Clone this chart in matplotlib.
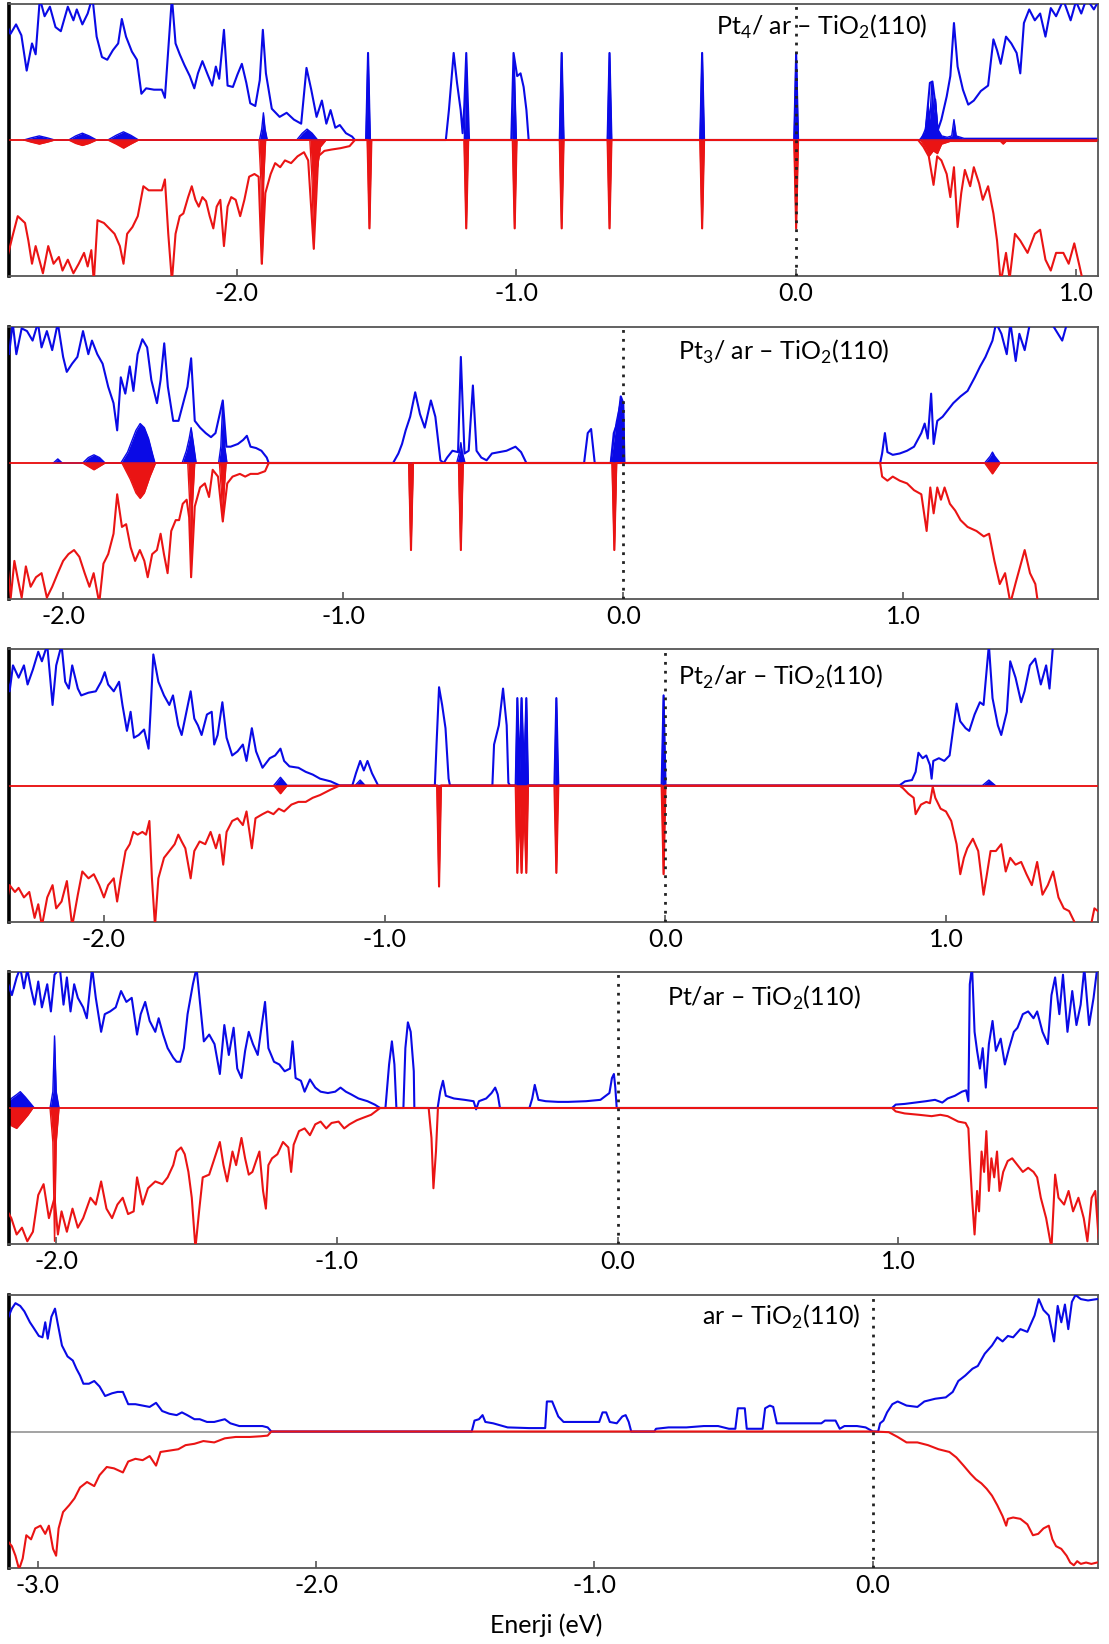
import numpy as np
import matplotlib
matplotlib.use("Agg")
import matplotlib.pyplot as plt

plt.rcParams['font.family'] = ['Lato', 'DejaVu Sans']
plt.rcParams['mathtext.fontset'] = 'custom'
plt.rcParams['mathtext.rm'] = 'Lato'
plt.rcParams['axes.unicode_minus'] = False

BLUE = '#0a0ae6'
RED = '#ea1414'

# ---------------- Pt4 / ar-TiO2(110) ----------------
P1_UP = [(-2.827, 8.8), (-2.808, 7.8), (-2.788, 8.5), (-2.769, 7.7), (-2.750, 5.1), (-2.731, 7.1), (-2.718, 6.3),
         (-2.703, 10.4), (-2.686, 9.1), (-2.667, 9.8), (-2.647, 8.3), (-2.628, 8.0), (-2.603, 9.8), (-2.583, 8.8),
         (-2.571, 9.6), (-2.551, 8.5), (-2.532, 9.3), (-2.515, 10.5), (-2.500, 7.6), (-2.481, 6.1), (-2.462, 5.9),
         (-2.442, 6.6), (-2.423, 7.1), (-2.410, 8.9), (-2.395, 7.6), (-2.374, 6.5), (-2.356, 5.9), (-2.340, 3.4),
         (-2.323, 3.8), (-2.295, 3.7), (-2.267, 3.7), (-2.256, 3.1), (-2.244, 6.6), (-2.231, 10.5), (-2.218, 7.1),
         (-2.203, 6.3), (-2.186, 5.5), (-2.167, 4.7), (-2.151, 3.8), (-2.138, 4.9), (-2.122, 5.8), (-2.103, 4.8),
         (-2.087, 4.0), (-2.074, 5.4), (-2.062, 4.5), (-2.045, 8.1), (-2.032, 4.0), (-2.013, 3.9), (-1.997, 4.8),
         (-1.981, 5.6), (-1.965, 4.2), (-1.951, 2.7), (-1.933, 2.5), (-1.917, 4.4), (-1.906, 8.1), (-1.895, 4.9),
         (-1.874, 2.3), (-1.846, 1.7), (-1.821, 2.0), (-1.795, 1.5), (-1.769, 1.2), (-1.750, 5.3), (-1.733, 3.7),
         (-1.714, 1.7), (-1.695, 2.9), (-1.679, 1.2), (-1.664, 2.2), (-1.647, 0.9), (-1.631, 1.1), (-1.609, 0.5),
         (-1.587, 0.25), (-1.577, 0.0),
         (-1.537, 0.0), (-1.530, 6.4), (-1.523, 0.0),
         (-1.252, 0.0), (-1.241, 2.2), (-1.224, 6.4), (-1.212, 4.2), (-1.199, 2.2), (-1.192, 0.5), (-1.186, 2.5),
         (-1.179, 6.4), (-1.169, 0.0),
         (-1.018, 0.0), (-1.010, 6.4), (-0.997, 4.7), (-0.985, 4.9), (-0.974, 3.9), (-0.964, 2.2), (-0.956, 0.0),
         (-0.845, 0.0), (-0.838, 6.4), (-0.831, 0.0),
         (-0.674, 0.0), (-0.667, 6.4), (-0.660, 0.0),
         (-0.343, 0.0), (-0.336, 6.4), (-0.329, 0.0),
         (-0.007, 0.0), (0.000, 6.4), (0.007, 0.0),
         (0.442, 0.0), (0.462, 0.5), (0.478, 4.2), (0.487, 4.3), (0.496, 2.9), (0.506, 0.7), (0.519, 1.5),
         (0.538, 3.2), (0.551, 4.7), (0.564, 8.6), (0.577, 5.4), (0.596, 3.7), (0.615, 2.6), (0.635, 2.9),
         (0.660, 3.6), (0.686, 4.0), (0.705, 7.4), (0.718, 6.6), (0.731, 5.6), (0.750, 7.6), (0.769, 7.1),
         (0.788, 6.4), (0.801, 4.9), (0.814, 8.6), (0.833, 9.6), (0.853, 8.8), (0.872, 9.3), (0.891, 7.6),
         (0.910, 9.7), (0.929, 9.1), (0.955, 10.3), (0.981, 8.8), (1.000, 10.2), (1.019, 9.3), (1.038, 10.4),
         (1.064, 9.6), (1.080, 10.2)]
P1_DN = [(-2.821, -8.8), (-2.801, -7.1), (-2.782, -5.6), (-2.756, -6.1), (-2.744, -7.4), (-2.731, -9.1),
         (-2.718, -7.8), (-2.692, -9.8), (-2.673, -7.8), (-2.654, -9.1), (-2.635, -8.6), (-2.622, -9.6),
         (-2.603, -8.8), (-2.583, -9.8), (-2.564, -9.1), (-2.545, -8.3), (-2.532, -9.3), (-2.519, -8.1),
         (-2.510, -10.4), (-2.497, -5.9), (-2.474, -6.1), (-2.455, -6.5), (-2.436, -6.9), (-2.417, -7.8),
         (-2.404, -9.1), (-2.391, -6.9), (-2.372, -6.4), (-2.353, -5.6), (-2.333, -3.4), (-2.314, -3.7),
         (-2.288, -3.7), (-2.267, -3.7), (-2.256, -2.9), (-2.244, -6.9), (-2.231, -10.4), (-2.218, -6.9),
         (-2.203, -5.6), (-2.190, -5.4), (-2.173, -4.2), (-2.160, -3.4), (-2.147, -4.4), (-2.135, -4.9),
         (-2.122, -4.2), (-2.109, -4.5), (-2.096, -5.6), (-2.083, -6.5), (-2.071, -4.9), (-2.058, -4.4),
         (-2.045, -7.8), (-2.032, -4.9), (-2.019, -4.2), (-2.003, -4.4), (-1.987, -5.6), (-1.972, -4.4),
         (-1.955, -2.7), (-1.936, -2.5), (-1.921, -2.7), (-1.910, -9.1), (-1.897, -3.9), (-1.878, -2.5),
         (-1.862, -1.7), (-1.844, -2.0), (-1.827, -1.5), (-1.805, -1.7), (-1.782, -1.2), (-1.759, -0.9),
         (-1.744, -1.5), (-1.724, -8.0), (-1.708, -1.2), (-1.686, -0.8), (-1.660, -0.7), (-1.628, -0.6),
         (-1.596, -0.45), (-1.577, 0.0),
         (-1.532, 0.0), (-1.525, -6.5), (-1.518, 0.0),
         (-1.186, 0.0), (-1.179, -6.5), (-1.172, 0.0),
         (-1.013, 0.0), (-1.006, -6.5), (-0.999, 0.0),
         (-0.845, 0.0), (-0.838, -6.5), (-0.831, 0.0),
         (-0.674, 0.0), (-0.667, -6.5), (-0.660, 0.0),
         (-0.343, 0.0), (-0.336, -6.5), (-0.329, 0.0),
         (-0.007, 0.0), (0.000, -6.5), (0.007, 0.0),
         (0.436, 0.0), (0.455, -0.5), (0.474, -1.2), (0.491, -3.3), (0.504, -1.2), (0.519, -1.5), (0.538, -2.5),
         (0.551, -4.2), (0.564, -2.0), (0.577, -6.4), (0.590, -3.9), (0.603, -2.2), (0.622, -3.4), (0.635, -2.0),
         (0.654, -3.2), (0.667, -4.4), (0.686, -3.4), (0.705, -5.4), (0.718, -7.4), (0.731, -10.5),
         (0.750, -8.3), (0.763, -10.2), (0.782, -6.9), (0.801, -7.4), (0.827, -8.3), (0.853, -6.9),
         (0.872, -6.6), (0.891, -8.8), (0.910, -9.6), (0.929, -8.3), (0.955, -8.3), (0.974, -9.1),
         (0.994, -7.6), (1.013, -9.3), (1.026, -10.5), (1.045, -10.3), (1.080, -10.6)]
# Pt-projected DOS
P1_PT_UP = [(-2.760, 0.0), (-2.735, 0.15), (-2.705, 0.3), (-2.675, 0.15), (-2.650, 0.0),
            (-2.600, 0.0), (-2.575, 0.3), (-2.551, 0.5), (-2.527, 0.3), (-2.500, 0.0),
            (-2.460, 0.0), (-2.430, 0.35), (-2.404, 0.6), (-2.378, 0.35), (-2.350, 0.0),
            (-1.918, 0.0), (-1.910, 0.8), (-1.904, 2.0), (-1.898, 0.8), (-1.890, 0.0),
            (-1.785, 0.0), (-1.765, 0.5), (-1.748, 0.8), (-1.730, 0.5), (-1.710, 0.0),
            (-1.537, 0.0), (-1.530, 6.4), (-1.523, 0.0),
            (-1.186, 0.0), (-1.179, 6.0), (-1.172, 0.0),
            (-1.016, 0.0), (-1.008, 6.0), (-1.000, 0.0),
            (-0.845, 0.0), (-0.838, 6.4), (-0.831, 0.0),
            (-0.674, 0.0), (-0.667, 6.4), (-0.660, 0.0),
            (-0.343, 0.0), (-0.336, 6.4), (-0.329, 0.0),
            (-0.007, 0.0), (0.000, 6.4), (0.007, 0.0),
            (0.445, 0.0), (0.462, 0.8), (0.472, 2.5), (0.478, 1.5), (0.485, 4.2), (0.492, 2.0), (0.498, 3.0),
            (0.506, 0.8), (0.520, 0.3), (0.540, 0.2), (0.556, 0.3), (0.564, 1.5), (0.572, 0.3), (0.600, 0.12),
            (1.080, 0.12)]
P1_PT_DN = [(-2.760, 0.0), (-2.735, -0.15), (-2.705, -0.3), (-2.675, -0.15), (-2.650, 0.0),
            (-2.600, 0.0), (-2.575, -0.25), (-2.551, -0.4), (-2.527, -0.25), (-2.500, 0.0),
            (-2.460, 0.0), (-2.430, -0.3), (-2.404, -0.6), (-2.378, -0.3), (-2.350, 0.0),
            (-1.920, 0.0), (-1.913, -3.0), (-1.908, -9.1), (-1.903, -3.0), (-1.896, 0.0),
            (-1.738, 0.0), (-1.730, -3.0), (-1.724, -8.0), (-1.718, -3.0), (-1.700, -0.5), (-1.680, 0.0),
            (-1.532, 0.0), (-1.525, -6.5), (-1.518, 0.0),
            (-1.186, 0.0), (-1.179, -6.5), (-1.172, 0.0),
            (-1.013, 0.0), (-1.006, -6.5), (-0.999, 0.0),
            (-0.845, 0.0), (-0.838, -6.5), (-0.831, 0.0),
            (-0.674, 0.0), (-0.667, -6.5), (-0.660, 0.0),
            (-0.343, 0.0), (-0.336, -6.5), (-0.329, 0.0),
            (-0.007, 0.0), (0.000, -6.5), (0.007, 0.0),
            (0.445, 0.0), (0.460, -0.5), (0.475, -1.2), (0.490, -0.8), (0.505, -1.0), (0.520, -0.3),
            (0.550, -0.1), (0.730, -0.1), (0.740, -0.3), (0.750, -0.1), (1.080, -0.1)]

# ---------------- Pt3 / ar-TiO2(110) ----------------
P2_UP = [(-2.206, 9.5), (-2.193, 8.0), (-2.180, 10.3), (-2.167, 8.0), (-2.148, 9.9), (-2.129, 9.7), (-2.109, 9.0),
         (-2.090, 10.3), (-2.077, 8.5), (-2.058, 9.7), (-2.039, 8.3), (-2.019, 10.3), (-2.000, 7.8), (-1.987, 6.7),
         (-1.968, 7.3), (-1.949, 7.8), (-1.929, 9.7), (-1.910, 8.0), (-1.897, 9.0), (-1.878, 8.0), (-1.859, 7.3),
         (-1.839, 5.6), (-1.820, 4.4), (-1.807, 2.4), (-1.794, 6.3), (-1.778, 5.1), (-1.762, 7.1), (-1.749, 5.3),
         (-1.734, 8.0), (-1.717, 9.1), (-1.700, 8.5), (-1.685, 6.1), (-1.665, 4.4), (-1.652, 6.1), (-1.639, 8.8),
         (-1.626, 5.6), (-1.607, 3.1), (-1.588, 3.1), (-1.569, 4.6), (-1.556, 5.6), (-1.543, 7.7), (-1.530, 3.1),
         (-1.511, 2.6), (-1.491, 2.2), (-1.472, 1.9), (-1.456, 2.2), (-1.430, 4.6), (-1.417, 1.2), (-1.402, 1.2),
         (-1.376, 1.4), (-1.357, 1.7), (-1.344, 2.0), (-1.331, 1.2), (-1.311, 1.1), (-1.292, 0.9), (-1.273, 0.4),
         (-1.266, 0.0),
         (-0.822, 0.0), (-0.803, 0.7), (-0.790, 1.4), (-0.777, 2.4), (-0.761, 3.4), (-0.743, 5.2), (-0.726, 3.6),
         (-0.709, 2.6), (-0.687, 4.6), (-0.671, 3.4), (-0.653, 0.2), (-0.641, 0.0), (-0.629, 0.4), (-0.610, 0.9),
         (-0.590, 0.8), (-0.580, 7.8), (-0.567, 0.7), (-0.552, 0.9), (-0.537, 5.7), (-0.524, 0.9), (-0.507, 0.4),
         (-0.488, 0.2), (-0.469, 0.7), (-0.443, 0.8), (-0.417, 0.9), (-0.385, 1.2), (-0.365, 0.8), (-0.346, 0.0),
         (-0.140, 0.0), (-0.127, 2.2), (-0.115, 2.5), (-0.102, 0.0),
         (-0.045, 0.0), (-0.034, 2.2), (-0.019, 3.1), (-0.009, 4.9), (0.000, 4.4), (0.004, 0.0),
         (0.917, 0.0), (0.924, 0.7), (0.934, 2.2), (0.943, 0.8), (0.962, 0.6), (0.987, 0.7), (1.013, 0.9),
         (1.038, 1.2), (1.064, 2.2), (1.076, 2.9), (1.087, 1.8), (1.099, 5.1), (1.108, 1.4), (1.121, 3.1),
         (1.140, 3.4), (1.159, 3.9), (1.178, 4.4), (1.204, 4.9), (1.229, 5.3), (1.255, 6.3), (1.274, 7.1),
         (1.293, 7.8), (1.318, 9.0), (1.331, 10.3), (1.350, 9.5), (1.369, 8.0), (1.382, 10.3), (1.401, 7.5),
         (1.414, 9.5), (1.433, 8.3), (1.452, 10.3), (1.490, 10.5), (1.528, 10.3), (1.567, 9.0), (1.586, 10.4),
         (1.700, 10.5)]
P2_DN = [(-2.199, -7.4), (-2.187, -9.9), (-2.174, -7.2), (-2.161, -8.6), (-2.148, -9.9), (-2.133, -7.6),
         (-2.116, -9.1), (-2.097, -8.4), (-2.077, -8.1), (-2.058, -9.9), (-2.039, -9.1), (-2.019, -8.1),
         (-2.000, -7.2), (-1.981, -6.7), (-1.961, -6.4), (-1.942, -6.9), (-1.923, -8.1), (-1.906, -9.1),
         (-1.891, -8.1), (-1.871, -10.3), (-1.856, -7.4), (-1.839, -6.7), (-1.820, -5.2), (-1.807, -2.3),
         (-1.790, -4.7), (-1.775, -4.5), (-1.759, -6.2), (-1.743, -7.2), (-1.726, -6.4), (-1.710, -7.2),
         (-1.698, -8.4), (-1.682, -6.7), (-1.665, -6.4), (-1.652, -5.2), (-1.640, -6.7), (-1.627, -8.1),
         (-1.614, -5.0), (-1.598, -4.2), (-1.586, -4.2), (-1.573, -3.0), (-1.559, -2.7), (-1.550, -4.0),
         (-1.543, -8.4), (-1.530, -3.2), (-1.511, -1.8), (-1.494, -1.5), (-1.479, -2.5), (-1.466, -0.5),
         (-1.447, -1.0), (-1.430, -4.3), (-1.414, -1.5), (-1.395, -1.0), (-1.369, -0.8), (-1.350, -1.0),
         (-1.331, -0.8), (-1.305, -0.8), (-1.279, -0.6), (-1.266, 0.0),
         (-0.765, 0.0), (-0.758, -6.4), (-0.751, 0.0),
         (-0.587, 0.0), (-0.580, -6.4), (-0.573, 0.0),
         (-0.039, 0.0), (-0.032, -6.4), (-0.025, 0.0),
         (0.917, 0.0), (0.924, -1.0), (0.943, -1.3), (0.962, -1.0), (0.987, -1.3), (1.013, -1.5), (1.038, -2.0),
         (1.064, -2.3), (1.083, -5.0), (1.096, -1.8), (1.108, -3.7), (1.121, -1.8), (1.134, -2.7), (1.147, -1.8),
         (1.166, -3.0), (1.185, -3.5), (1.204, -4.2), (1.229, -4.7), (1.261, -5.0), (1.287, -5.4), (1.306, -5.2),
         (1.325, -7.2), (1.344, -8.9), (1.363, -8.1), (1.382, -10.3), (1.401, -8.8), (1.433, -6.4),
         (1.452, -8.1), (1.471, -8.9), (1.481, -10.4), (1.520, -10.5), (1.700, -10.5)]
P2_PT_UP = [(-2.035, 0.0), (-2.019, 0.3), (-2.003, 0.0),
            (-1.930, 0.0), (-1.910, 0.4), (-1.890, 0.6), (-1.870, 0.4), (-1.850, 0.0),
            (-1.794, 0.0), (-1.770, 0.8), (-1.755, 1.6), (-1.740, 2.4), (-1.725, 2.9), (-1.710, 2.6),
            (-1.695, 1.8), (-1.680, 0.6), (-1.672, 0.0),
            (-1.575, 0.0), (-1.560, 0.9), (-1.550, 1.8), (-1.543, 2.6), (-1.536, 1.6), (-1.525, 0.0),
            (-1.445, 0.0), (-1.437, 1.2), (-1.430, 4.5), (-1.423, 1.2), (-1.415, 0.0),
            (-0.595, 0.0), (-0.585, 0.8), (-0.580, 1.5), (-0.575, 0.8), (-0.565, 0.0),
            (-0.045, 0.0), (-0.035, 1.5), (-0.025, 3.0), (-0.015, 4.0), (-0.008, 4.7), (0.000, 4.2), (0.004, 0.0),
            (1.290, 0.0), (1.310, 0.5), (1.318, 0.8), (1.326, 0.5), (1.345, 0.0)]
P2_PT_DN = [(-1.930, 0.0), (-1.890, -0.5), (-1.850, 0.0),
            (-1.790, 0.0), (-1.760, -1.2), (-1.740, -2.2), (-1.725, -2.6), (-1.710, -2.2), (-1.690, -1.0),
            (-1.670, 0.0),
            (-1.555, 0.0), (-1.548, -3.0), (-1.543, -8.4), (-1.538, -3.0), (-1.530, 0.0),
            (-1.442, 0.0), (-1.435, -2.0), (-1.430, -4.3), (-1.425, -2.0), (-1.418, 0.0),
            (-0.766, 0.0), (-0.758, -6.4), (-0.750, 0.0),
            (-0.588, 0.0), (-0.580, -6.4), (-0.572, 0.0),
            (-0.040, 0.0), (-0.032, -6.4), (-0.024, 0.0),
            (1.290, 0.0), (1.318, -0.8), (1.345, 0.0)]

# ---------------- Pt2 / ar-TiO2(110) ----------------
P3_UP = [(-2.349, 8.3), (-2.336, 6.9), (-2.324, 8.8), (-2.304, 7.9), (-2.285, 8.8), (-2.272, 7.4), (-2.253, 8.5),
         (-2.234, 9.8), (-2.221, 9.1), (-2.202, 10.3), (-2.183, 5.9), (-2.170, 8.8), (-2.151, 10.3), (-2.138, 7.6),
         (-2.125, 7.1), (-2.113, 8.8), (-2.093, 7.1), (-2.081, 6.6), (-2.055, 6.8), (-2.029, 6.9), (-2.010, 7.6),
         (-1.997, 8.3), (-1.985, 7.4), (-1.965, 6.9), (-1.946, 7.6), (-1.934, 5.9), (-1.918, 4.0), (-1.905, 5.4),
         (-1.893, 3.5), (-1.876, 3.7), (-1.857, 4.1), (-1.841, 2.7), (-1.834, 5.4), (-1.824, 9.6), (-1.806, 7.6),
         (-1.786, 6.6), (-1.767, 5.9), (-1.754, 6.6), (-1.735, 4.4), (-1.723, 3.7), (-1.706, 5.4), (-1.691, 6.9),
         (-1.678, 4.9), (-1.665, 4.4), (-1.652, 3.7), (-1.633, 5.2), (-1.616, 5.4), (-1.607, 3.0), (-1.595, 3.7),
         (-1.578, 6.1), (-1.563, 3.5), (-1.543, 2.2), (-1.524, 2.5), (-1.505, 3.0), (-1.492, 1.8), (-1.473, 4.2),
         (-1.458, 2.5), (-1.435, 1.3), (-1.409, 2.0), (-1.390, 2.2), (-1.371, 2.7), (-1.358, 1.8), (-1.339, 1.4),
         (-1.307, 1.3), (-1.281, 1.0), (-1.256, 0.8), (-1.230, 0.5), (-1.192, 0.3), (-1.160, 0.0),
         (-1.115, 0.0), (-1.102, 0.9), (-1.087, 1.8), (-1.074, 1.1), (-1.061, 1.8), (-1.045, 0.9), (-1.023, 0.0),
         (-0.821, 0.0), (-0.815, 3.0), (-0.806, 7.2), (-0.795, 5.9), (-0.783, 4.2), (-0.772, 0.5), (-0.767, 0.0),
         (-0.616, 0.0), (-0.610, 3.0), (-0.593, 4.4), (-0.578, 7.1), (-0.565, 4.4), (-0.559, 0.2), (-0.553, 0.0),
         (-0.533, 0.0), (-0.527, 6.4), (-0.520, 0.5), (-0.512, 6.4), (-0.503, 0.5), (-0.495, 6.4), (-0.489, 0.0),
         (-0.395, 0.0), (-0.388, 6.4), (-0.381, 0.0),
         (-0.013, 0.0), (-0.006, 6.6), (0.001, 0.0),
         (0.834, 0.0), (0.854, 0.3), (0.879, 0.4), (0.892, 1.0), (0.902, 2.4), (0.917, 2.0), (0.930, 2.2),
         (0.943, 1.5), (0.949, 0.5), (0.955, 1.8), (0.975, 2.0), (0.994, 1.8), (1.013, 2.2), (1.025, 4.0),
         (1.038, 6.0), (1.051, 4.7), (1.070, 4.2), (1.083, 4.0), (1.102, 5.2), (1.121, 6.1), (1.134, 5.9),
         (1.153, 10.3), (1.166, 6.4), (1.185, 4.4), (1.197, 3.7), (1.217, 5.4), (1.229, 9.1), (1.248, 7.9),
         (1.268, 6.1), (1.280, 6.9), (1.299, 8.8), (1.318, 9.3), (1.338, 7.4), (1.357, 8.8), (1.369, 7.1),
         (1.382, 10.4), (1.420, 10.5), (1.550, 10.5)]
P3_DN = [(-2.349, -9.0), (-2.336, -7.3), (-2.317, -7.8), (-2.304, -7.5), (-2.285, -8.2), (-2.266, -7.8),
         (-2.247, -9.7), (-2.234, -8.7), (-2.221, -10.3), (-2.202, -8.2), (-2.183, -7.3), (-2.170, -9.0),
         (-2.151, -8.5), (-2.132, -7.0), (-2.113, -10.3), (-2.093, -8.0), (-2.077, -6.3), (-2.055, -6.8),
         (-2.036, -6.5), (-2.017, -7.3), (-2.000, -8.2), (-1.985, -7.3), (-1.965, -6.8), (-1.953, -8.5),
         (-1.940, -6.8), (-1.923, -4.8), (-1.908, -4.3), (-1.895, -3.4), (-1.880, -3.6), (-1.863, -3.4),
         (-1.850, -3.6), (-1.838, -2.6), (-1.829, -6.8), (-1.818, -10.3), (-1.806, -6.8), (-1.786, -5.3),
         (-1.767, -4.8), (-1.748, -4.3), (-1.735, -3.6), (-1.723, -4.1), (-1.710, -4.6), (-1.691, -6.8),
         (-1.678, -4.8), (-1.659, -4.1), (-1.639, -4.3), (-1.620, -3.4), (-1.601, -4.6), (-1.588, -3.6),
         (-1.575, -5.8), (-1.563, -3.4), (-1.543, -2.6), (-1.524, -2.4), (-1.505, -2.9), (-1.492, -1.9),
         (-1.473, -4.6), (-1.460, -2.4), (-1.435, -2.1), (-1.416, -1.9), (-1.396, -2.1), (-1.377, -1.7),
         (-1.358, -1.9), (-1.332, -1.4), (-1.307, -1.2), (-1.281, -1.2), (-1.256, -0.9), (-1.230, -0.7),
         (-1.192, -0.3), (-1.160, 0.0),
         (-0.813, 0.0), (-0.806, -7.4), (-0.799, 0.0),
         (-0.533, 0.0), (-0.527, -6.4), (-0.520, -1.0), (-0.512, -6.4), (-0.503, -1.0), (-0.495, -6.4),
         (-0.489, 0.0),
         (-0.395, 0.0), (-0.388, -6.4), (-0.381, 0.0),
         (-0.013, 0.0), (-0.006, -6.5), (0.001, 0.0),
         (0.834, 0.0), (0.847, -0.2), (0.866, -0.6), (0.885, -0.9), (0.892, -2.1), (0.911, -1.4), (0.930, -1.2),
         (0.943, -1.3), (0.953, -0.1), (0.962, -0.9), (0.981, -1.7), (1.000, -1.9), (1.019, -2.6), (1.038, -4.3),
         (1.051, -6.5), (1.064, -5.3), (1.076, -4.6), (1.096, -3.9), (1.115, -4.8), (1.134, -8.0), (1.146, -6.5),
         (1.159, -4.8), (1.178, -4.8), (1.197, -4.3), (1.213, -6.3), (1.229, -5.3), (1.248, -5.8), (1.268, -5.6),
         (1.287, -6.5), (1.306, -7.3), (1.325, -5.6), (1.344, -8.0), (1.363, -7.3), (1.382, -6.3), (1.401, -8.2),
         (1.420, -9.0), (1.439, -9.2), (1.465, -10.3), (1.490, -10.5), (1.516, -10.3), (1.529, -9.0),
         (1.548, -9.3)]
P3_PT_UP = [(-1.395, 0.0), (-1.371, 0.6), (-1.347, 0.0),
            (-1.105, 0.0), (-1.087, 0.4), (-1.069, 0.0),
            (-0.533, 0.0), (-0.527, 6.4), (-0.520, 0.5), (-0.512, 6.4), (-0.503, 0.5), (-0.495, 6.4),
            (-0.489, 0.0),
            (-0.394, 0.0), (-0.388, 6.4), (-0.382, 0.0),
            (-0.012, 0.0), (-0.006, 6.6), (0.000, 0.0),
            (1.130, 0.0), (1.153, 0.4), (1.176, 0.0)]
P3_PT_DN = [(-1.395, 0.0), (-1.371, -0.6), (-1.347, 0.0),
            (-0.813, 0.0), (-0.806, -7.4), (-0.799, 0.0),
            (-0.533, 0.0), (-0.527, -6.4), (-0.520, -1.0), (-0.512, -6.4), (-0.503, -1.0), (-0.495, -6.4),
            (-0.489, 0.0),
            (-0.394, 0.0), (-0.388, -6.4), (-0.382, 0.0),
            (-0.012, 0.0), (-0.006, -6.5), (0.000, 0.0)]

# ---------------- Pt / ar-TiO2(110) ----------------
P4_UP = [(-2.179, 8.1), (-2.171, 9.1), (-2.158, 8.3), (-2.141, 9.6), (-2.128, 10.3), (-2.115, 8.8), (-2.103, 10.2),
         (-2.090, 8.8), (-2.077, 7.6), (-2.064, 9.3), (-2.051, 7.4), (-2.032, 9.1), (-2.019, 7.1), (-2.006, 9.8),
         (-1.987, 10.3), (-1.974, 7.6), (-1.962, 9.6), (-1.949, 7.1), (-1.936, 9.1), (-1.923, 8.1), (-1.904, 7.4),
         (-1.891, 6.6), (-1.872, 10.3), (-1.859, 8.1), (-1.840, 5.6), (-1.827, 6.9), (-1.808, 7.1), (-1.788, 7.4),
         (-1.769, 8.6), (-1.750, 7.8), (-1.731, 8.1), (-1.712, 5.4), (-1.699, 6.9), (-1.683, 7.8), (-1.667, 6.4),
         (-1.647, 5.6), (-1.635, 6.6), (-1.619, 5.4), (-1.603, 4.4), (-1.583, 3.7), (-1.571, 3.4), (-1.558, 3.4),
         (-1.545, 4.4), (-1.532, 6.9), (-1.513, 9.1), (-1.500, 10.3), (-1.487, 7.6), (-1.474, 4.9), (-1.455, 5.4),
         (-1.436, 4.7), (-1.417, 2.5), (-1.401, 6.1), (-1.385, 3.9), (-1.368, 5.9), (-1.355, 2.9), (-1.340, 2.2),
         (-1.327, 4.2), (-1.314, 5.6), (-1.299, 4.7), (-1.282, 3.9), (-1.269, 5.9), (-1.256, 7.8), (-1.244, 4.4),
         (-1.224, 3.4), (-1.205, 3.2), (-1.186, 2.7), (-1.167, 2.9), (-1.158, 4.9), (-1.147, 2.2), (-1.128, 2.0),
         (-1.115, 1.2), (-1.096, 2.1), (-1.077, 1.5), (-1.058, 1.2), (-1.032, 1.1), (-1.006, 1.2), (-0.987, 1.5),
         (-0.968, 1.2), (-0.949, 1.0), (-0.923, 0.7), (-0.891, 0.5), (-0.865, 0.25), (-0.846, 0.0),
         (-0.827, 0.0), (-0.814, 3.2), (-0.804, 4.9), (-0.795, 3.2), (-0.788, 0.0),
         (-0.763, 0.0), (-0.756, 4.4), (-0.747, 6.3), (-0.737, 5.6), (-0.726, 2.7), (-0.724, 0.0),
         (-0.641, 0.0), (-0.632, 1.2), (-0.622, 2.0), (-0.612, 0.9), (-0.583, 0.7), (-0.545, 0.6), (-0.513, 0.5),
         (-0.504, -0.1), (-0.494, 0.5), (-0.468, 0.7), (-0.449, 1.1), (-0.436, 1.5), (-0.427, 1.0), (-0.419, 0.0),
         (-0.314, 0.0), (-0.304, 0.7), (-0.295, 1.7), (-0.282, 0.6), (-0.256, 0.5), (-0.212, 0.45),
         (-0.176, 0.45), (-0.112, 0.5), (-0.061, 0.6), (-0.042, 0.9), (-0.029, 1.1), (-0.020, 2.2),
         (-0.013, 2.5), (-0.008, 1.5), (-0.003, 0.0),
         (0.978, 0.0), (0.991, 0.25), (1.023, 0.3), (1.061, 0.4), (1.099, 0.5), (1.131, 0.6), (1.157, 0.4),
         (1.176, 0.7), (1.202, 0.9), (1.227, 1.2), (1.242, 1.3), (1.250, 0.5), (1.255, 9.1), (1.263, 10.4),
         (1.272, 5.6), (1.281, 4.2), (1.291, 2.9), (1.301, 4.4), (1.312, 1.5), (1.323, 4.7), (1.336, 6.4),
         (1.348, 4.2), (1.365, 5.1), (1.380, 3.2), (1.395, 4.4), (1.412, 5.6), (1.425, 5.9), (1.444, 6.9),
         (1.463, 7.1), (1.482, 6.6), (1.495, 7.1), (1.514, 5.6), (1.533, 4.7), (1.546, 8.3), (1.559, 9.6),
         (1.574, 6.9), (1.587, 9.8), (1.603, 5.6), (1.620, 8.6), (1.635, 6.1), (1.650, 7.6), (1.663, 10.3),
         (1.680, 6.1), (1.696, 8.1), (1.709, 10.3)]
P4_DN = [(-2.179, -7.4), (-2.160, -8.1), (-2.141, -9.3), (-2.122, -8.8), (-2.103, -9.8), (-2.083, -9.1),
         (-2.064, -6.4), (-2.045, -5.6), (-2.026, -8.1), (-2.006, -6.6), (-1.994, -9.3), (-1.981, -7.6),
         (-1.962, -9.1), (-1.942, -7.4), (-1.923, -8.8), (-1.904, -8.1), (-1.878, -6.6), (-1.859, -7.1),
         (-1.840, -5.4), (-1.821, -7.4), (-1.801, -8.1), (-1.782, -7.1), (-1.763, -6.6), (-1.744, -7.8),
         (-1.724, -7.6), (-1.712, -5.1), (-1.692, -7.1), (-1.673, -5.9), (-1.647, -5.4), (-1.622, -5.6),
         (-1.603, -5.1), (-1.583, -4.2), (-1.571, -3.2), (-1.555, -2.9), (-1.542, -3.4), (-1.529, -4.7),
         (-1.517, -6.6), (-1.504, -10.3), (-1.491, -7.6), (-1.478, -5.1), (-1.455, -4.9), (-1.436, -3.7),
         (-1.417, -2.5), (-1.404, -4.2), (-1.391, -5.4), (-1.372, -3.2), (-1.359, -4.2), (-1.340, -2.2),
         (-1.327, -3.7), (-1.314, -4.9), (-1.301, -4.7), (-1.288, -3.9), (-1.276, -3.2), (-1.263, -6.1),
         (-1.253, -7.4), (-1.244, -4.2), (-1.231, -3.7), (-1.212, -3.4), (-1.192, -2.5), (-1.173, -2.9),
         (-1.163, -4.7), (-1.154, -2.7), (-1.135, -1.7), (-1.115, -1.5), (-1.096, -2.0), (-1.077, -1.2),
         (-1.058, -1.0), (-1.038, -1.5), (-1.019, -1.1), (-0.994, -1.0), (-0.974, -1.5), (-0.955, -1.2),
         (-0.929, -0.9), (-0.904, -0.7), (-0.878, -0.5), (-0.846, 0.0),
         (-0.673, 0.0), (-0.663, -2.2), (-0.656, -5.9), (-0.647, -3.2), (-0.640, 0.0),
         (0.978, 0.0), (0.991, -0.25), (1.023, -0.4), (1.074, -0.5), (1.119, -0.6), (1.150, -0.5), (1.176, -0.6),
         (1.214, -1.0), (1.240, -1.1), (1.250, -1.5), (1.255, -3.7), (1.263, -6.6), (1.272, -9.3), (1.281, -6.1),
         (1.288, -7.6), (1.297, -3.2), (1.306, -4.7), (1.314, -1.7), (1.323, -6.1), (1.332, -3.7), (1.342, -5.1),
         (1.352, -3.2), (1.361, -6.1), (1.374, -4.7), (1.390, -3.9), (1.406, -3.7), (1.425, -4.2), (1.444, -4.7),
         (1.463, -4.4), (1.482, -4.7), (1.495, -5.1), (1.508, -6.6), (1.527, -8.1), (1.546, -10.3),
         (1.559, -4.9), (1.571, -6.6), (1.591, -7.1), (1.607, -6.1), (1.623, -7.6), (1.642, -6.6),
         (1.661, -8.1), (1.674, -9.8), (1.689, -6.6), (1.702, -6.1), (1.714, -9.6)]
P4_PT_UP = [(-2.179, 0.3), (-2.160, 0.7), (-2.140, 1.0), (-2.128, 1.2), (-2.110, 0.8), (-2.090, 0.3),
            (-2.078, 0.0),
            (-2.022, 0.0), (-2.012, 1.2), (-2.006, 5.3), (-2.000, 1.2), (-1.990, 0.0)]
P4_PT_DN = [(-2.179, -0.8), (-2.160, -1.3), (-2.141, -1.5), (-2.120, -1.0), (-2.100, -0.5), (-2.083, 0.0),
            (-2.022, 0.0), (-2.012, -2.5), (-2.006, -9.8), (-2.000, -2.5), (-1.990, 0.0)]

# ---------------- ar-TiO2(110) ----------------
P5_UP = [(-3.105, 8.4), (-3.093, 9.0), (-3.080, 9.4), (-3.063, 9.2), (-3.048, 8.8), (-3.028, 8.0), (-3.015, 7.6),
         (-2.996, 7.0), (-2.983, 6.9), (-2.973, 8.0), (-2.964, 6.8), (-2.951, 8.4), (-2.938, 9.0), (-2.929, 8.0),
         (-2.913, 6.3), (-2.893, 5.5), (-2.874, 5.2), (-2.861, 4.6), (-2.848, 4.1), (-2.836, 3.5), (-2.816, 3.5),
         (-2.797, 3.7), (-2.778, 3.3), (-2.758, 2.6), (-2.733, 2.8), (-2.713, 2.9), (-2.694, 2.9), (-2.675, 2.0),
         (-2.649, 2.0), (-2.623, 1.9), (-2.598, 1.8), (-2.575, 2.1), (-2.553, 1.5), (-2.527, 1.3), (-2.501, 1.2),
         (-2.482, 1.4), (-2.463, 1.2), (-2.437, 0.9), (-2.418, 0.9), (-2.392, 0.7), (-2.366, 0.7), (-2.347, 0.8),
         (-2.328, 0.9), (-2.308, 0.6), (-2.276, 0.4), (-2.238, 0.4), (-2.193, 0.4), (-2.174, 0.3), (-2.161, 0.0),
         (-1.441, 0.0), (-1.431, 0.8), (-1.415, 0.9), (-1.402, 1.2), (-1.392, 0.7), (-1.364, 0.6), (-1.312, 0.3),
         (-1.235, 0.25), (-1.177, 0.25), (-1.171, 2.2), (-1.152, 2.2), (-1.140, 1.6), (-1.130, 1.1),
         (-1.111, 0.7), (-1.079, 0.7), (-1.028, 0.7), (-0.983, 0.7), (-0.971, 1.4), (-0.958, 1.4), (-0.945, 0.7),
         (-0.920, 0.6), (-0.900, 1.1), (-0.888, 1.2), (-0.877, 0.7), (-0.868, 0.0),
         (-0.785, 0.0), (-0.779, 0.2), (-0.734, 0.3), (-0.670, 0.3), (-0.607, 0.4), (-0.556, 0.4), (-0.517, 0.2),
         (-0.494, 0.2), (-0.485, 1.7), (-0.460, 1.7), (-0.453, 0.2), (-0.396, 0.2), (-0.387, 1.7), (-0.370, 1.9),
         (-0.358, 1.8), (-0.345, 0.6), (-0.313, 0.6), (-0.262, 0.6), (-0.185, 0.6), (-0.172, 0.8), (-0.134, 0.8),
         (-0.119, 0.2), (-0.102, 0.4), (-0.057, 0.4), (-0.026, 0.3), (0.000, 0.0), (0.019, 0.0),
         (0.026, 0.6), (0.038, 0.8), (0.051, 1.4), (0.070, 2.0), (0.089, 2.2), (0.121, 1.9), (0.160, 1.8),
         (0.185, 2.2), (0.224, 2.4), (0.262, 2.5), (0.287, 2.9), (0.307, 3.7), (0.332, 4.1), (0.358, 4.6),
         (0.377, 4.8), (0.402, 5.7), (0.428, 6.3), (0.447, 6.9), (0.466, 6.6), (0.485, 7.0), (0.504, 6.9),
         (0.530, 7.5), (0.555, 7.3), (0.581, 8.5), (0.596, 9.7), (0.613, 8.9), (0.632, 8.5), (0.651, 6.6),
         (0.664, 9.2), (0.677, 8.0), (0.690, 9.3), (0.702, 7.5), (0.715, 9.5), (0.728, 10.0), (0.747, 9.7),
         (0.773, 9.6), (0.805, 9.7)]
P5_DN = [(-3.105, -8.1), (-3.093, -8.4), (-3.080, -9.1), (-3.067, -10.1), (-3.054, -9.3), (-3.041, -7.6),
         (-3.024, -7.9), (-3.009, -7.1), (-2.990, -6.9), (-2.973, -7.5), (-2.960, -6.9), (-2.945, -8.6),
         (-2.934, -9.1), (-2.925, -7.1), (-2.909, -5.9), (-2.887, -5.4), (-2.868, -4.9), (-2.848, -4.1),
         (-2.823, -3.7), (-2.797, -4.0), (-2.778, -3.2), (-2.752, -2.6), (-2.726, -2.7), (-2.694, -3.0),
         (-2.675, -2.2), (-2.649, -2.0), (-2.623, -2.1), (-2.598, -1.8), (-2.575, -2.5), (-2.559, -1.5),
         (-2.527, -1.4), (-2.495, -1.3), (-2.469, -1.0), (-2.437, -0.9), (-2.405, -0.7), (-2.366, -0.8),
         (-2.328, -0.5), (-2.289, -0.4), (-2.238, -0.4), (-2.199, -0.35), (-2.174, -0.3), (-2.161, 0.0),
         (0.000, 0.0), (0.057, -0.05), (0.089, -0.4), (0.121, -0.8), (0.160, -0.8), (0.198, -1.0), (0.236, -1.3),
         (0.275, -1.5), (0.300, -1.9), (0.326, -2.5), (0.351, -3.1), (0.370, -3.5), (0.390, -3.8), (0.409, -4.2),
         (0.428, -4.7), (0.447, -5.4), (0.466, -6.2), (0.479, -6.9), (0.485, -6.4), (0.504, -6.3), (0.530, -6.4),
         (0.555, -6.8), (0.575, -7.6), (0.594, -7.5), (0.613, -7.1), (0.632, -6.9), (0.645, -7.9), (0.658, -8.4),
         (0.677, -8.6), (0.696, -9.1), (0.709, -9.6), (0.722, -9.8), (0.734, -9.5), (0.747, -9.7), (0.766, -9.6),
         (0.785, -9.7), (0.805, -9.6)]

LABELS = [r"Pt$_4$/ ar – TiO$_2$(110)", r"Pt$_3$/ ar – TiO$_2$(110)", r"Pt$_2$/ar – TiO$_2$(110)",
          r"Pt/ar – TiO$_2$(110)", r"ar – TiO$_2$(110)"]
XLIMS = [(-2.815, 1.077), (-2.195, 1.693), (-2.34, 1.54), (-2.17, 1.71), (-3.105, 0.807)]
TICKS = [[-2.0, -1.0, 0.0, 1.0]] * 4 + [[-3.0, -2.0, -1.0, 0.0]]

W, H = 1109, 1644
fig = plt.figure(figsize=(W / 100, H / 100), dpi=100)

# panel boxes in pixels: (top, bottom)
boxes = [(4, 276), (327, 599), (649, 922), (972, 1244), (1295, 1568)]
label_xy = [(822, 27), (784, 352), (780, 677), (764, 998), (781, 1317)]
x0, x1 = 8.5, 1097.5

panels = [
    (P1_UP, P1_DN, P1_PT_UP, P1_PT_DN),
    (P2_UP, P2_DN, P2_PT_UP, P2_PT_DN),
    (P3_UP, P3_DN, P3_PT_UP, P3_PT_DN),
    (P4_UP, P4_DN, P4_PT_UP, P4_PT_DN),
    (P5_UP, P5_DN, None, None),
]

for i, (up, dn, pt_up, pt_dn) in enumerate(panels):
    top, bot = boxes[i]
    ax = fig.add_axes([x0 / W, 1 - bot / H, (x1 - x0) / W, (bot - top) / H])
    ax.set_xlim(*XLIMS[i])
    ax.set_ylim(-10, 10)
    last = pt_up is None

    ax.axhline(0, color='#8a8a8a' if last else RED, lw=1.1, zorder=1)

    if not last:
        e, v = np.array(pt_up).T
        ax.fill_between(e, 0, v, color=BLUE, lw=0, zorder=2)
        ax.plot(e, v, color=BLUE, lw=1.0, zorder=2)
        e, v = np.array(pt_dn).T
        ax.fill_between(e, 0, v, color=RED, lw=0, zorder=2)
        ax.plot(e, v, color=RED, lw=1.0, zorder=2)

    e, v = np.array(up).T
    ax.plot(e, v, color=BLUE, lw=1.5, zorder=3)
    e, v = np.array(dn).T
    ax.plot(e, v, color=RED, lw=1.5, zorder=3)
    if not last:
        ax.axhline(0, color=RED, lw=1.1, zorder=4)

    ax.axvline(0, color='#222222', ls=(0, (1, 2.2)), lw=2.0, zorder=5)

    ax.set_xticks(TICKS[i])
    ax.set_xticklabels([f"{t:.1f}" for t in TICKS[i]])
    ax.set_yticks([])
    ax.tick_params(axis='x', direction='in', length=5, width=1.2, color='#555555',
                   labelsize=18, pad=4)
    for side in ('top', 'right', 'bottom'):
        ax.spines[side].set_color('#555555')
        ax.spines[side].set_linewidth(1.3)
    ax.spines['left'].set_color('black')
    ax.spines['left'].set_linewidth(2.6)

    lx, ly = label_xy[i]
    fig.text(lx / W, 1 - ly / H, LABELS[i], ha='center', va='center', fontsize=18, zorder=10)

fig.text(546 / W, 1 - 1625 / H, "Enerji (eV)", ha='center', va='center', fontsize=18)

fig.savefig("out.png", dpi=100)
